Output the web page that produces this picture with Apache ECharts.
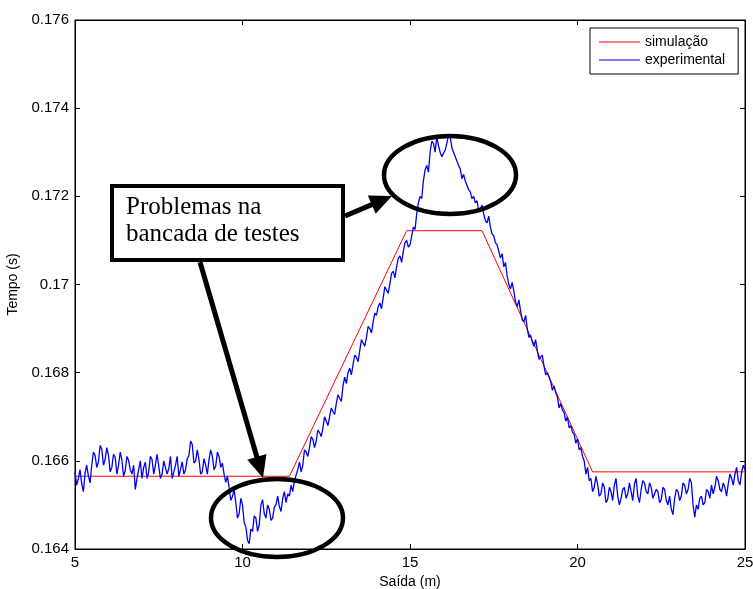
<!DOCTYPE html>
<html>
<head>
<meta charset="utf-8">
<script src="https://cdn.jsdelivr.net/npm/echarts@6/dist/echarts.min.js"></script>
<style>
  html, body { margin: 0; padding: 0; background: #fff; }
  #chart { width: 753px; height: 589px; }
</style>
</head>
<body>
<div id="chart"></div>
<script>
// simulation: piecewise linear profile (breakpoints)
const simX = [5, 11.4, 14.9, 17.15, 20.45, 25]
const simY = [0.16565, 0.16565, 0.17122, 0.17122, 0.16575, 0.16575]

const SAIDA_START = 5
const SAIDA_STEP = 0.05
const experimental = [
  0.16574, 0.16545, 0.16560, 0.16580, 0.16548, 0.16530, 0.16572, 0.16590, 0.16566, 0.16550, 0.16590, 0.16620, 0.16612, 0.16585, 0.16598, 0.16635, 0.16626, 0.16590, 0.16604, 0.16630,
  0.16612, 0.16575, 0.16585, 0.16615, 0.16608, 0.16570, 0.16590, 0.16620, 0.16602, 0.16565, 0.16578, 0.16610, 0.16601, 0.16580, 0.16570, 0.16590, 0.16535, 0.16560, 0.16580, 0.16600,
  0.16560, 0.16585, 0.16597, 0.16560, 0.16575, 0.16610, 0.16603, 0.16570, 0.16590, 0.16615, 0.16588, 0.16560, 0.16570, 0.16600, 0.16601, 0.16570, 0.16582, 0.16610, 0.16560, 0.16575,
  0.16590, 0.16610, 0.16565, 0.16580, 0.16598, 0.16570, 0.16580, 0.16605, 0.16612, 0.16645, 0.16637, 0.16595, 0.16600, 0.16625, 0.16603, 0.16570, 0.16575, 0.16605, 0.16590, 0.16570,
  0.16602, 0.16625, 0.16610, 0.16580, 0.16588, 0.16620, 0.16610, 0.16585, 0.16595, 0.16570, 0.16551, 0.16565, 0.16540, 0.16510, 0.16519, 0.16535, 0.16505, 0.16470, 0.16480, 0.16515,
  0.16500, 0.16460, 0.16450, 0.16420, 0.16412, 0.16445, 0.16440, 0.16475, 0.16470, 0.16440, 0.16455, 0.16500, 0.16512, 0.16480, 0.16470, 0.16500, 0.16490, 0.16465, 0.16470, 0.16495,
  0.16500, 0.16520, 0.16497, 0.16485, 0.16515, 0.16530, 0.16505, 0.16525, 0.16520, 0.16545, 0.16530, 0.16555, 0.16558, 0.16580, 0.16597, 0.16575, 0.16590, 0.16625, 0.16620, 0.16610,
  0.16630, 0.16655, 0.16649, 0.16630, 0.16645, 0.16670, 0.16664, 0.16655, 0.16675, 0.16700, 0.16690, 0.16680, 0.16700, 0.16720, 0.16712, 0.16705, 0.16730, 0.16750, 0.16742, 0.16735,
  0.16770, 0.16790, 0.16775, 0.16800, 0.16810, 0.16795, 0.16818, 0.16840, 0.16835, 0.16825, 0.16850, 0.16875, 0.16872, 0.16860, 0.16880, 0.16905, 0.16900, 0.16890, 0.16915, 0.16935,
  0.16930, 0.16950, 0.16958, 0.16945, 0.16970, 0.16995, 0.16995, 0.16980, 0.17002, 0.17025, 0.17030, 0.17015, 0.17040, 0.17060, 0.17065, 0.17050, 0.17075, 0.17095, 0.17100, 0.17085,
  0.17090, 0.17110, 0.17130, 0.17125, 0.17160, 0.17185, 0.17200, 0.17195, 0.17235, 0.17260, 0.17270, 0.17255, 0.17300, 0.17325, 0.17320, 0.17300, 0.17335, 0.17315, 0.17300, 0.17290,
  0.17290, 0.17305, 0.17320, 0.17340, 0.17335, 0.17310, 0.17300, 0.17290, 0.17280, 0.17270, 0.17262, 0.17240, 0.17250, 0.17235, 0.17232, 0.17215, 0.17210, 0.17195, 0.17200, 0.17185,
  0.17190, 0.17165, 0.17172, 0.17180, 0.17160, 0.17145, 0.17140, 0.17155, 0.17130, 0.17115, 0.17110, 0.17095, 0.17090, 0.17075, 0.17060, 0.17070, 0.17040, 0.17050, 0.17020, 0.17000,
  0.16990, 0.17005, 0.16985, 0.16960, 0.16950, 0.16965, 0.16940, 0.16920, 0.16915, 0.16930, 0.16900, 0.16880, 0.16885, 0.16870, 0.16860, 0.16875, 0.16850, 0.16830, 0.16830, 0.16840,
  0.16815, 0.16795, 0.16800, 0.16790, 0.16780, 0.16760, 0.16770, 0.16755, 0.16745, 0.16720, 0.16730, 0.16715, 0.16710, 0.16690, 0.16700, 0.16675, 0.16680, 0.16665, 0.16660, 0.16640,
  0.16650, 0.16625, 0.16630, 0.16610, 0.16600, 0.16570, 0.16585, 0.16555, 0.16560, 0.16530, 0.16540, 0.16565, 0.16547, 0.16520, 0.16525, 0.16550, 0.16540, 0.16505, 0.16512, 0.16540,
  0.16530, 0.16510, 0.16545, 0.16560, 0.16520, 0.16500, 0.16515, 0.16535, 0.16540, 0.16515, 0.16525, 0.16550, 0.16530, 0.16510, 0.16548, 0.16560, 0.16520, 0.16505, 0.16535, 0.16555,
  0.16550, 0.16530, 0.16525, 0.16550, 0.16540, 0.16515, 0.16515, 0.16535, 0.16530, 0.16505, 0.16512, 0.16540, 0.16535, 0.16510, 0.16500, 0.16520, 0.16490, 0.16478, 0.16515, 0.16535,
  0.16530, 0.16510, 0.16520, 0.16550, 0.16545, 0.16525, 0.16535, 0.16560, 0.16550, 0.16500, 0.16472, 0.16500, 0.16490, 0.16515, 0.16520, 0.16500, 0.16505, 0.16535, 0.16530, 0.16515,
  0.16545, 0.16525, 0.16540, 0.16565, 0.16555, 0.16535, 0.16530, 0.16550, 0.16540, 0.16520, 0.16548, 0.16570, 0.16560, 0.16545, 0.16570, 0.16585, 0.16555, 0.16545, 0.16575, 0.16590,
  0.16580
]

const xTicks = { min: 5, max: 25, interval: 5 }
const yTicks = { min: 0.164, max: 0.176, interval: 0.002 }

const seriesNames = ['simulação', 'experimental']
const annotationText = 'Problemas na\nbancada de testes'

const AXIS_FONT = 'Liberation Sans'

// arrow = shaft line + filled triangular head at the tip
function arrow(from, to) {
  const dx = to[0] - from[0]
  const dy = to[1] - from[1]
  const len = Math.sqrt(dx * dx + dy * dy)
  const ux = dx / len
  const uy = dy / len
  const headL = 22
  const headW = 20
  const bx = to[0] - ux * headL
  const by = to[1] - uy * headL
  return [
    {
      type: 'line',
      z: 100,
      shape: { x1: from[0], y1: from[1], x2: bx + ux * 2, y2: by + uy * 2 },
      style: { stroke: '#000', lineWidth: 5 },
    },
    {
      type: 'polygon',
      z: 100,
      shape: {
        points: [
          to,
          [bx - uy * headW / 2, by + ux * headW / 2],
          [bx + uy * headW / 2, by - ux * headW / 2],
        ],
      },
      style: { fill: '#000' },
    },
  ]
}

const chart = echarts.init(document.getElementById('chart'))

const axisLine = { show: true, lineStyle: { color: '#000', width: 1 } }
const tickStyle = { inside: true, length: 5, lineStyle: { color: '#000' } }

chart.setOption({
  animation: false,
  backgroundColor: '#fff',
  grid: {
    left: 75,
    right: 8,
    top: 20,
    bottom: 40,
    outerBoundsMode: 'none',
    containLabel: false,
    show: true,
    borderColor: '#000',
    borderWidth: 1,
  },
  legend: {
    data: seriesNames,
    orient: 'vertical',
    left: 590,
    top: 28,
    icon: 'rect',
    itemWidth: 41,
    itemHeight: 1,
    itemGap: 4,
    padding: [7, 13, 7, 9],
    backgroundColor: '#fff',
    borderColor: '#000',
    borderWidth: 1,
    textStyle: { color: '#000', fontSize: 14, fontFamily: AXIS_FONT },
  },
  xAxis: [
    {
      type: 'value',
      min: xTicks.min,
      max: xTicks.max,
      interval: xTicks.interval,
      name: 'Saída (m)',
      nameLocation: 'middle',
      nameGap: 23,
      nameTextStyle: { color: '#000', fontSize: 14, fontFamily: AXIS_FONT },
      axisLine: axisLine,
      axisTick: tickStyle,
      axisLabel: { color: '#000', fontSize: 15, fontFamily: AXIS_FONT, margin: 6 },
      splitLine: { show: false },
    },
    {
      type: 'value',
      position: 'top',
      min: xTicks.min,
      max: xTicks.max,
      interval: xTicks.interval,
      axisLine: axisLine,
      axisTick: tickStyle,
      axisLabel: { show: false },
      splitLine: { show: false },
    },
  ],
  yAxis: [
    {
      type: 'value',
      min: yTicks.min,
      max: yTicks.max,
      interval: yTicks.interval,
      name: 'Tempo (s)',
      nameLocation: 'middle',
      nameGap: 49,
      nameTextStyle: { color: '#000', fontSize: 14, fontFamily: AXIS_FONT },
      axisLine: axisLine,
      axisTick: tickStyle,
      axisLabel: {
        color: '#000',
        fontSize: 15,
        fontFamily: AXIS_FONT,
        margin: 6,
        formatter: (v) => String(parseFloat(v.toFixed(3))),
      },
      splitLine: { show: false },
    },
    {
      type: 'value',
      position: 'right',
      min: yTicks.min,
      max: yTicks.max,
      interval: yTicks.interval,
      axisLine: axisLine,
      axisTick: tickStyle,
      axisLabel: { show: false },
      splitLine: { show: false },
    },
  ],
  series: [
    {
      name: seriesNames[0],
      type: 'line',
      data: simX.map((x, i) => [x, simY[i]]),
      showSymbol: false,
      lineStyle: { color: '#f00', width: 1 },
      itemStyle: { color: '#f00' },
    },
    {
      name: seriesNames[1],
      type: 'line',
      data: experimental.map((v, i) => [+(SAIDA_START + i * SAIDA_STEP).toFixed(2), v]),
      showSymbol: false,
      lineStyle: { color: '#0000ee', width: 1.3 },
      itemStyle: { color: '#0000ee' },
    },
  ],
  graphic: [
    {
      type: 'ellipse',
      z: 100,
      shape: { cx: 450, cy: 175, rx: 66, ry: 39 },
      style: { fill: 'none', stroke: '#000', lineWidth: 4.5 },
    },
    {
      type: 'ellipse',
      z: 100,
      shape: { cx: 277, cy: 518, rx: 66, ry: 39 },
      style: { fill: 'none', stroke: '#000', lineWidth: 4.5 },
    },
    {
      type: 'rect',
      z: 100,
      shape: { x: 112, y: 186, width: 231, height: 74 },
      style: { fill: '#fff', stroke: '#000', lineWidth: 4 },
    },
    {
      type: 'text',
      z: 101,
      x: 126,
      y: 194,
      style: {
        text: annotationText,
        fill: '#000',
        fontSize: 25,
        fontFamily: 'Liberation Serif',
        lineHeight: 27,
      },
    },
    ...arrow([345, 216], [392, 196]),
    ...arrow([200, 262], [263, 478]),
  ],
})
</script>
</body>
</html>
